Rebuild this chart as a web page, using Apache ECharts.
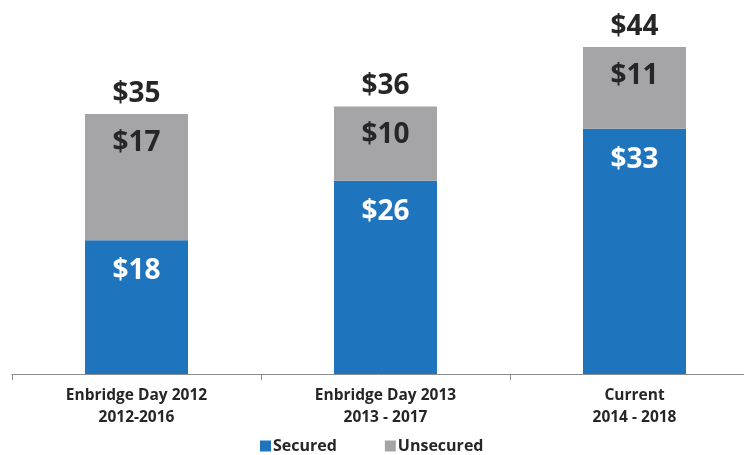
<!DOCTYPE html>
<html>
<head>
<meta charset="utf-8">
<script src="https://cdn.jsdelivr.net/npm/echarts@6/dist/echarts.min.js"></script>
<style>
  html, body { margin: 0; padding: 0; background: #fff; }
  #chart { width: 744px; height: 455px; }
</style>
</head>
<body>
<div id="chart"></div>
<script>
const categories = ['Enbridge Day 2012\n2012-2016', 'Enbridge Day 2013\n2013 - 2017', 'Current\n2014 - 2018'];
const secured = [18, 26, 33];
const unsecured = [17, 10, 11];
const totals = [35, 36, 44];

const font = '"Open Sans"';
const chart = echarts.init(document.getElementById('chart'));

// shared label look for the dollar figures
const moneyLabel = {
  fontFamily: font, fontSize: 28, fontWeight: 'bold', color: '#262626'
};

const option = {
  animation: false,
  textStyle: { fontFamily: font },
  grid: { left: 12, right: -15, top: 47, bottom: 81, outerBoundsMode: 'none' },
  legend: {
    data: ['Secured', 'Unsecured'],
    bottom: -4,
    left: 255,
    icon: 'rect',
    itemWidth: 11,
    itemHeight: 11,
    itemGap: 48,
    textStyle: { fontFamily: font, fontSize: 16, fontWeight: 'bold', color: '#262626', padding: [0, 0, 0, -3] }
  },
  xAxis: {
    type: 'category',
    data: categories,
    axisLine: { lineStyle: { color: '#8c8c8c', width: 1 } },
    axisTick: { show: true, length: 6, lineStyle: { color: '#8c8c8c' } },
    axisLabel: {
      margin: 11,
      fontFamily: font,
      fontSize: 15.5,
      fontWeight: 'bold',
      color: '#262626',
      lineHeight: 22
    }
  },
  yAxis: { type: 'value', min: 0, max: 44, show: false, splitLine: { show: false } },
  series: [
    {
      name: 'Secured',
      type: 'bar',
      stack: 'cap',
      barWidth: 103,
      data: secured,
      itemStyle: { color: '#1f74be' },
      label: Object.assign({
        show: true, position: 'insideTop', distance: 17,
        formatter: p => '$' + p.value
      }, moneyLabel, { color: '#fff' })
    },
    {
      name: 'Unsecured',
      type: 'bar',
      stack: 'cap',
      barWidth: 103,
      data: unsecured,
      itemStyle: { color: '#a5a5a8' },
      label: Object.assign({
        show: true, position: 'insideTop', distance: 15,
        formatter: p => '$' + p.value
      }, moneyLabel)
    },
    {
      name: 'Total',
      type: 'bar',
      stack: 'cap',
      barWidth: 103,
      data: totals.map(() => 0),
      itemStyle: { color: 'transparent' },
      label: Object.assign({
        show: true, position: 'top', distance: 6,
        formatter: p => '$' + totals[p.dataIndex]
      }, moneyLabel)
    }
  ]
};

chart.setOption(option);
</script>
</body>
</html>
